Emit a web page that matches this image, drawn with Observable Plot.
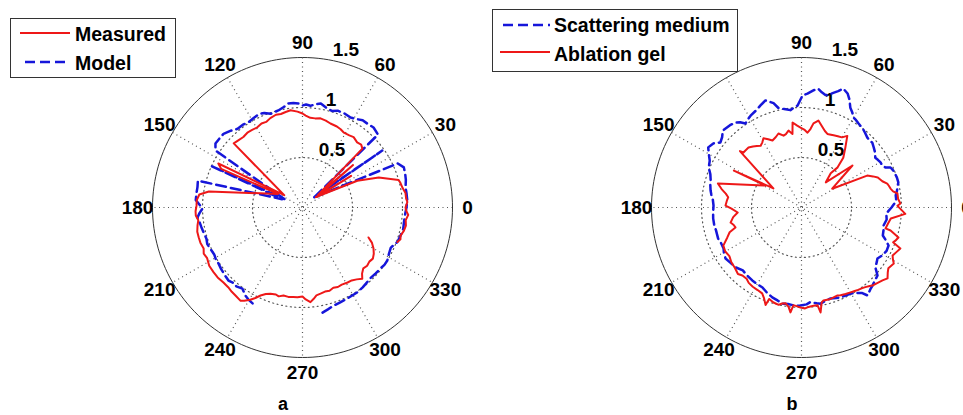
<!DOCTYPE html>
<html><head><meta charset="utf-8">
<script src="https://cdn.jsdelivr.net/npm/d3@7"></script>
<script src="https://cdn.jsdelivr.net/npm/@observablehq/plot@0.6"></script>
<style>
body{margin:0;background:#fff;}
#wrap{position:relative;width:963px;height:415px;overflow:hidden;font-family:"Liberation Sans",Arial,sans-serif;}
#wrap > svg, #wrap > figure{position:absolute;top:0;margin:0;}
</style></head>
<body><div id="wrap"></div>
<script>
// ---- tick labels ----
const angleTicks = [0, 30, 60, 90, 120, 150, 180, 210, 240, 270, 300, 330];
const radialTicks = [0.5, 1, 1.5];
const rMax = 1.5;

// ---- panel a: [angle in degrees, radius] ----
const measured = [[-20,1.01],[-18,1.03],[-16,1.02],[-13,1.04],[-10,1.05],[-7,1.04],[-4,1.06],[-2,1.04],[0,1.03],[3,1.05],[5,1.04],[8,1.04],[11,1.02],[14,1.01],[16,1.00],[21.5,0.82],[26,0.61],[38,0.17],[33,0.58],[36,0.18],[40,0.66],[39,0.20],[44.5,0.84],[47,0.86],[50,0.85],[54,0.87],[57,0.86],[61,0.855],[64,0.87],[67,0.88],[71.6,0.885],[75,0.90],[78.6,0.91],[82,0.90],[85,0.90],[88,0.92],[90,0.94],[93,0.96],[97,0.98],[100,0.97],[103,0.96],[106,0.965],[109.8,0.95],[113,0.93],[116,0.935],[119.4,0.92],[123,0.925],[126,0.93],[130,0.92],[134,0.93],[137,0.94],[146,0.22],[152.4,0.95],[154.6,0.90],[151,0.28],[170.3,0.95],[172.8,1.04],[176,1.06],[179,1.06],[182,1.07],[184.3,1.07],[187,1.05],[189.7,1.065],[193,1.08],[196,1.08],[199,1.08],[202.5,1.07],[205,1.09],[208,1.08],[212,1.10],[216,1.10],[219.5,1.10],[223.5,1.09],[227,1.09],[230,1.10],[232.7,1.106],[236.3,1.12],[238,1.10],[240.5,1.06],[242.5,1.02],[244.5,0.975],[247,0.94],[249.6,0.92],[253,0.91],[255,0.92],[257.8,0.90],[261,0.905],[264,0.90],[266.8,0.90],[270,0.89],[272,0.92],[274.8,0.95],[277,0.92],[279,0.89],[281.8,0.88],[285,0.87],[288,0.875],[291,0.86],[294,0.87],[297,0.865],[301,0.875],[304,0.88],[307,0.90],[310,0.93],[312,0.89],[315,0.86],[318,0.87],[321,0.86],[324,0.87],[327,0.85],[330,0.82],[333,0.78],[335.6,0.725]];
const model = [[-79.2,1.07],[-76,1.05],[-72.5,1.03],[-68,1.02],[-64,1.015],[-60,1.01],[-57,1.01],[-53,1.00],[-50,0.99],[-46,0.98],[-42,0.985],[-38,0.99],[-35,1.00],[-32,1.00],[-28,0.98],[-24.4,0.97],[-22,0.99],[-20,1.01],[-16,1.02],[-12,1.03],[-8,1.025],[-3,1.03],[0,1.04],[4,1.05],[8,1.05],[11,1.05],[15,1.07],[18,1.08],[21.6,1.09],[24.8,1.05],[42,0.15],[35.5,0.98],[41,0.14],[44,1.05],[48.4,1.07],[52,1.06],[55.4,1.06],[58,1.04],[61.9,1.02],[66,1.03],[70,1.03],[73,1.01],[76,1.02],[80,1.055],[83,1.04],[85.5,1.02],[88,1.03],[90,1.02],[92,1.04],[95,1.05],[97.7,1.05],[100.8,1.02],[104,1.00],[108.8,0.99],[112,1.02],[115,1.03],[118.6,1.02],[122,1.01],[126,1.02],[129.5,1.02],[133,1.05],[137,1.08],[140,1.08],[143.7,1.08],[146.8,1.04],[155,0.20],[155.5,1.01],[158,0.22],[165.6,1.08],[169,1.07],[172,1.07],[176,1.07],[180.6,1.00],[183,1.03],[185.4,1.055],[188,1.04],[191,1.03],[194,1.02],[198,1.01],[201,1.02],[204,1.01],[208,1.00],[211,1.01],[213.7,1.01],[217,1.02],[221,1.03],[224.6,1.04],[228,1.02],[230,1.03],[233.5,1.01],[237,1.05],[240,1.07],[244.4,1.09]];

// ---- panel b ----
const scattering = [[-90.6,0.98],[-87,0.97],[-84.6,0.95],[-81,0.97],[-78.8,0.98],[-75,0.96],[-72.3,0.955],[-69,0.97],[-66.6,0.98],[-63,0.985],[-60.3,0.99],[-57,1.02],[-54.6,1.05],[-53.1,1.10],[-50,1.07],[-47.7,1.055],[-44,1.03],[-41.8,1.02],[-39,0.95],[-36,0.93],[-33.9,0.915],[-30.6,0.94],[-27,0.955],[-23.6,0.95],[-21,0.90],[-19,0.86],[-15,0.85],[-12.4,0.84],[-8,0.86],[-4,0.85],[0,0.90],[2.4,0.93],[5,0.95],[7.3,0.95],[10,0.97],[11.8,0.98],[14.5,1.00],[17.4,1.00],[19.5,0.995],[21.9,0.99],[24.2,0.976],[25.5,0.93],[27.5,0.91],[29.7,0.91],[32,0.90],[34,0.89],[37,0.92],[39.8,0.94],[42.5,0.96],[44.5,0.955],[46.7,0.96],[49.5,0.98],[52.3,1.00],[55.8,1.015],[58,1.03],[60,1.04],[62,1.08],[63.9,1.11],[66,1.18],[68,1.23],[70.6,1.26],[72.5,1.22],[74.5,1.19],[76.5,1.16],[78,1.15],[80,1.17],[82,1.20],[84,1.18],[87,1.14],[89.5,1.12],[92.2,1.02],[94.5,1.00],[96.5,0.98],[100,1.00],[103,1.02],[105,1.08],[108.6,1.13],[111.9,1.10],[115.4,1.07],[119,1.05],[121.5,1.03],[123.7,1.01],[125.8,1.05],[127.8,1.076],[131,1.09],[135.7,1.10],[138.5,1.06],[141.3,1.04],[144,1.09],[147.2,1.11],[150,1.07],[153,1.03],[156.7,1.01],[160,0.97],[163,0.95],[166,0.94],[169.4,0.925],[172,0.91],[175,0.89],[178.7,0.88],[183,0.885],[187,0.89],[191,0.89],[195,0.885],[200.5,0.89],[204,0.88],[207.7,0.88],[210.5,0.90],[213.9,0.915],[218,0.90],[222.3,0.89],[227,0.86],[231,0.87],[236,0.88],[240,0.885],[244,0.89],[248,0.92],[252,0.945],[255.5,0.96],[258.8,0.98],[262,0.975],[264.8,0.98],[267.5,0.985],[269.4,0.98]];
const ablationGel = [[-90.6,1.00],[-88,1.01],[-86.6,1.00],[-83,0.99],[-80.7,0.99],[-79.7,1.067],[-78,0.97],[-76.7,0.955],[-73,0.96],[-70.4,0.955],[-68,0.95],[-66,0.96],[-63,0.97],[-60,0.98],[-57.5,0.99],[-55.5,1.00],[-53,1.01],[-51.3,1.02],[-49,1.04],[-47.7,1.055],[-45,1.07],[-42,1.09],[-39.5,1.115],[-37,1.08],[-35,1.06],[-33,1.07],[-31.3,1.08],[-29.5,1.05],[-27.8,1.03],[-25,1.05],[-22.5,1.07],[-20.8,0.98],[-19,1.00],[-17.2,1.015],[-14.5,0.92],[-14,0.866],[-10.5,0.88],[-7,0.90],[-3.5,1.04],[1,0.96],[2.3,0.99],[5,0.97],[8.3,0.97],[10,0.93],[12,0.91],[14,0.90],[15.6,0.89],[18,0.85],[21.5,0.82],[23.5,0.78],[25.9,0.73],[31.5,0.36],[39.5,0.66],[46,0.35],[49.5,0.45],[48,0.54],[50,0.65],[53.7,0.74],[57.4,0.85],[60,0.81],[63,0.80],[66,0.79],[68,0.785],[70.6,0.78],[73,0.80],[75.3,0.83],[79,0.886],[81.9,0.85],[83.5,0.79],[85.4,0.75],[88,0.78],[90.7,0.80],[93,0.82],[96,0.855],[97,0.74],[99.6,0.78],[102,0.75],[104,0.74],[107.3,0.775],[110,0.75],[113.4,0.73],[116,0.76],[118.8,0.79],[121,0.76],[123.5,0.74],[126,0.76],[128.5,0.78],[131.5,0.80],[134.5,0.80],[136.5,0.80],[137.5,0.835],[145.8,0.34],[151.4,0.77],[148.6,0.42],[164,0.87],[167,0.82],[169.6,0.77],[172,0.74],[175,0.75],[178.5,0.76],[181,0.70],[184.5,0.64],[188,0.69],[192,0.725],[194.5,0.70],[196.8,0.69],[199,0.76],[202,0.80],[206,0.87],[210,0.88],[214,0.87],[218,0.89],[222.3,0.90],[226.3,0.92],[229,0.90],[232.4,0.90],[235,0.92],[238.4,0.93],[242,0.935],[245.4,0.945],[247.5,0.98],[249.8,1.04],[250.5,0.97],[253.6,0.99],[256.8,1.00],[258.5,0.98],[260.5,0.97],[262.5,1.00],[264,1.055],[265.3,0.98],[267.5,0.99],[269.4,1.00]];

// ---- styles ----
const RED = "rgb(238,24,24)", BLUE = "rgb(22,22,218)";
const FONT = '"Liberation Sans", Arial, sans-serif';
const H = 415, CY = 207, PXU = 100;

const rad = a => a * Math.PI / 180;
const X = d => d[1] * Math.cos(rad(d[0]));
const Y = d => d[1] * Math.sin(rad(d[0]));

function panel(left, width, cx, series) {
  const rings = radialTicks.flatMap(r => d3.range(0, 361, 2).map(a => [a, r]));
  const plot = Plot.plot({
    width, height: H, margin: 0,
    x: {domain: [-cx / PXU, (width - cx) / PXU], axis: null},
    y: {domain: [-(H - CY) / PXU, CY / PXU], axis: null},
    style: {overflow: "visible", background: "transparent", fontFamily: FONT},
    marks: [
      Plot.link(angleTicks.filter(a => a < 180), {
        x1: a => rMax * Math.cos(rad(a)), y1: a => rMax * Math.sin(rad(a)),
        x2: a => -rMax * Math.cos(rad(a)), y2: a => -rMax * Math.sin(rad(a)),
        stroke: "#555", strokeWidth: 1.2, strokeDasharray: "1,3.5"
      }),
      Plot.line(rings.filter(d => d[1] < rMax), {x: X, y: Y, z: d => d[1], stroke: "#555", strokeWidth: 1.2, strokeDasharray: "1,3.5"}),
      Plot.line(rings.filter(d => d[1] === rMax), {x: X, y: Y, stroke: "#333", strokeWidth: 1}),
      Plot.text(radialTicks, {
        x: r => (r + 0.025) * Math.cos(rad(82)), y: r => (r + 0.025) * Math.sin(rad(82)),
        text: r => String(r), textAnchor: "start", lineAnchor: "bottom", dx: 9,
        fontSize: 19, fontWeight: "bold", fill: "#000"
      }),
      Plot.text(angleTicks, {
        x: a => 1.1 * rMax * Math.cos(rad(a)), y: a => 1.1 * rMax * Math.sin(rad(a)),
        text: a => String(a), fontSize: 19, fontWeight: "bold", fill: "#000"
      }),
      ...series.map(s => Plot.line(s.data, {
        x: X, y: Y, stroke: s.color, strokeWidth: s.width,
        strokeDasharray: s.dash, strokeLinejoin: "round"
      }))
    ]
  });
  plot.style.left = left + "px";
  return plot;
}

const wrap = document.getElementById("wrap");
wrap.append(panel(0, 481, 302, [
  {data: model, color: BLUE, width: 2.5, dash: "10,5"},
  {data: measured, color: RED, width: 2}
]));
wrap.append(panel(481, 482, 320, [
  {data: scattering, color: BLUE, width: 2.5, dash: "10,5"},
  {data: ablationGel, color: RED, width: 2}
]));

// ---- legends and captions ----
const legends = [
  {box: [10.5, 18.5, 165, 59], items: [
    {label: "Measured", color: RED, dash: null, x1: 20, y: 33, ty: 41},
    {label: "Model", color: BLUE, dash: "10,5", x1: 25, y: 62, ty: 70}
  ], lx2: 70, tx: 75},
  {box: [492.5, 9.5, 245, 62], items: [
    {label: "Scattering medium", color: BLUE, dash: "10,5", x1: 503, y: 25, ty: 32},
    {label: "Ablation gel", color: RED, dash: null, x1: 500, y: 52, ty: 61}
  ], lx2: 550, tx: 554}
];
const captions = [{text: "a", x: 283, y: 410}, {text: "b", x: 792, y: 410}];

const svg = d3.select(wrap).append("svg").attr("width", 963).attr("height", H)
  .style("left", "0px").attr("font-family", FONT);
for (const lg of legends) {
  const [x, y, w, h] = lg.box;
  svg.append("rect").attr("x", x).attr("y", y).attr("width", w).attr("height", h)
    .attr("fill", "#fff").attr("stroke", "#333").attr("stroke-width", 1);
  for (const it of lg.items) {
    svg.append("line").attr("x1", it.x1).attr("x2", lg.lx2).attr("y1", it.y).attr("y2", it.y)
      .attr("stroke", it.color).attr("stroke-width", it.dash ? 2.5 : 2)
      .attr("stroke-dasharray", it.dash);
    svg.append("text").attr("x", lg.tx).attr("y", it.ty).attr("font-size", 19.5)
      .attr("font-weight", "bold").attr("fill", "#000").text(it.label);
  }
}
for (const c of captions) {
  svg.append("text").attr("x", c.x).attr("y", c.y).attr("text-anchor", "middle")
    .attr("font-size", 18).attr("font-weight", "bold").attr("fill", "#000").text(c.text);
}
</script>
</body></html>
